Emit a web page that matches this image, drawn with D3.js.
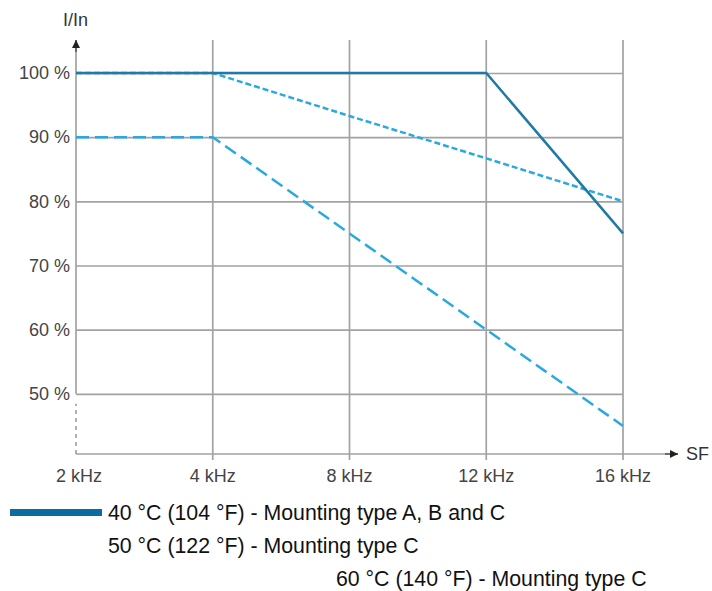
<!DOCTYPE html>
<html>
<head>
<meta charset="utf-8">
<script src="https://cdn.jsdelivr.net/npm/d3@7"></script>
<style>
  body { margin: 0; background: #fff; }
  svg { display: block; font-family: "Liberation Sans", Arial, sans-serif; }
</style>
</head>
<body>
<svg></svg>
<script>
const wSvg = 712, hSvg = 591;

const frequencies = ["2 kHz", "4 kHz", "8 kHz", "12 kHz", "16 kHz"];
const yTicks = [50, 60, 70, 80, 90, 100];

const temp40 = [100, 100, 100, 100, 75];
const temp50 = [100, 100, 93.3, 86.7, 80];
const temp60 = [90, 90, 75, 60, 45];

const legendLabels = [
    "40 °C (104 °F) - Mounting type A, B and C",
    "50 °C (122 °F) - Mounting type C",
    "60 °C (140 °F) - Mounting type C"
];

const series = [
    { name: legendLabels[0], values: temp40, color: "#1f7aa5", dash: null, width: 2.5 },
    { name: legendLabels[1], values: temp50, color: "#2aa8e0", dash: "6,3", width: 2.5 },
    { name: legendLabels[2], values: temp60, color: "#2aa8e0", dash: "13,6", width: 2.5 }
];

const x = d3.scalePoint().domain(frequencies).range([76, 623]);
const y = d3.scaleLinear().domain([40, 100]).range([458, 73]);

const gridColor = "#a2a2a2";
const axisY = y(40) - 4;
const topY = 40;

const svg = d3.select("svg")
    .attr("width", wSvg)
    .attr("height", hSvg);

const defs = svg.append("defs");
defs.append("marker")
    .attr("id", "arrow")
    .attr("viewBox", "0 0 10 10")
    .attr("refX", 10).attr("refY", 5)
    .attr("markerWidth", 8).attr("markerHeight", 8)
    .attr("markerUnits", "userSpaceOnUse")
    .attr("orient", "auto")
    .append("path")
    .attr("d", "M0,0 L10,5 L0,10 z")
    .attr("fill", "#222");

// horizontal grid + y labels
const yAxis = svg.append("g")
    .attr("transform", `translate(${x(frequencies[0])},0)`)
    .call(d3.axisLeft(y).tickValues(yTicks).tickFormat(d => d + " %")
        .tickSize(-(x(frequencies[4]) - x(frequencies[0]))).tickPadding(6));
yAxis.select(".domain").remove();
yAxis.selectAll(".tick line").attr("stroke", gridColor).attr("stroke-width", 1.7);
yAxis.selectAll(".tick text")
    .attr("fill", "#444").attr("font-size", 18)
    .attr("font-family", "Liberation Sans, Arial, sans-serif");

// vertical grid lines
svg.append("g").selectAll("line")
    .data(frequencies.slice(1))
    .enter()
    .append("line")
    .attr("x1", d => x(d)).attr("x2", d => x(d))
    .attr("y1", topY).attr("y2", axisY + 6)
    .attr("stroke", gridColor).attr("stroke-width", 1.7);

// x labels
svg.append("g").selectAll("text")
    .data(frequencies)
    .enter()
    .append("text")
    .attr("x", (d, i) => x(d) + (i === 0 ? 3 : 0))
    .attr("y", axisY + 28)
    .attr("text-anchor", "middle")
    .attr("font-size", 18)
    .attr("fill", "#444")
    .text(d => d);

// y axis with break
svg.append("line")
    .attr("x1", x(frequencies[0])).attr("x2", x(frequencies[0]))
    .attr("y1", y(50)).attr("y2", topY)
    .attr("stroke", gridColor).attr("stroke-width", 1.7);
svg.append("line")
    .attr("x1", x(frequencies[0])).attr("x2", x(frequencies[0]))
    .attr("y1", topY + 12).attr("y2", topY)
    .attr("stroke", "#222").attr("stroke-width", 1)
    .attr("marker-end", "url(#arrow)");
svg.append("line")
    .attr("x1", x(frequencies[0])).attr("x2", x(frequencies[0]))
    .attr("y1", axisY).attr("y2", y(50) + 10)
    .attr("stroke", gridColor).attr("stroke-width", 1.7)
    .attr("stroke-dasharray", "4,4");

// x axis
svg.append("line")
    .attr("x1", x(frequencies[0])).attr("x2", 678)
    .attr("y1", axisY).attr("y2", axisY)
    .attr("stroke", gridColor).attr("stroke-width", 1.7);
svg.append("line")
    .attr("x1", 665).attr("x2", 678)
    .attr("y1", axisY).attr("y2", axisY)
    .attr("stroke", "#222").attr("stroke-width", 1)
    .attr("marker-end", "url(#arrow)");

svg.append("text")
    .attr("x", 686).attr("y", axisY + 6)
    .attr("font-size", 18).attr("fill", "#333")
    .text("SF");
svg.append("text")
    .attr("x", 63).attr("y", 26)
    .attr("font-size", 18).attr("fill", "#333")
    .text("I/In");

// series
const line = d3.line()
    .x((d, i) => x(frequencies[i]))
    .y(d => y(d));

svg.append("g").selectAll("path")
    .data(series.slice().reverse())
    .enter()
    .append("path")
    .attr("d", d => line(d.values))
    .attr("fill", "none")
    .attr("stroke", d => d.color)
    .attr("stroke-width", d => d.width)
    .attr("stroke-dasharray", d => d.dash);

// legend
const legend = svg.append("g");
legend.append("rect")
    .attr("x", 10).attr("y", 509)
    .attr("width", 92).attr("height", 7)
    .attr("fill", "#0a6d9f");

const legendPos = [[108, 520], [108, 553], [336, 586]];
legend.selectAll("text")
    .data(legendLabels)
    .enter()
    .append("text")
    .attr("x", (d, i) => legendPos[i][0])
    .attr("y", (d, i) => legendPos[i][1])
    .attr("font-size", 21.3)
    .attr("fill", "#111")
    .text(d => d);
</script>
</body>
</html>
